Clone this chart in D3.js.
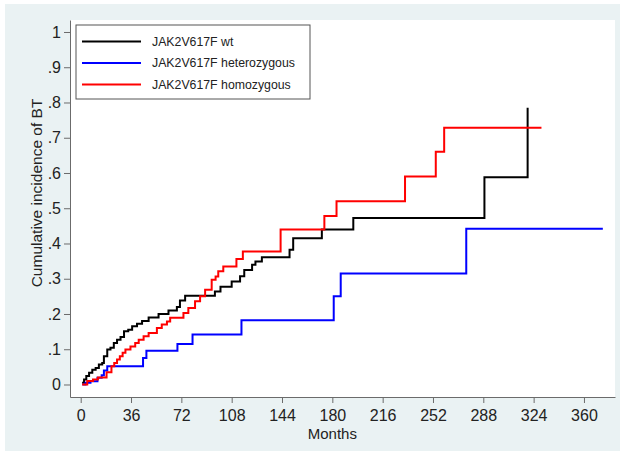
<!DOCTYPE html>
<html>
<head>
<meta charset="utf-8">
<script src="https://cdn.jsdelivr.net/npm/d3@7"></script>
<style>
  body { margin: 0; background: #fff; }
  text { font-family: "Liberation Sans", Arial, sans-serif; }
</style>
</head>
<body>
<div id="chart"></div>
<script>
// ---- data (months, cumulative incidence) ----
const wtMonths  = [1, 2.4, 4, 6, 8.3, 10.7, 13, 15.4, 16.6, 19, 21.3, 23.7, 26, 28.5, 31, 34, 36.8, 40.3, 43.9, 48.6, 55.7, 62.8, 68.8, 71, 74.7, 96, 100, 108, 114, 117, 122.6, 125, 129.6, 149.4, 152, 172.5, 195, 288.8, 319.7];
const wtValues  = [0.005, 0.014, 0.024, 0.033, 0.042, 0.047, 0.057, 0.061, 0.08, 0.099, 0.104, 0.118, 0.127, 0.135, 0.151, 0.155, 0.165, 0.172, 0.18, 0.19, 0.2, 0.21, 0.22, 0.238, 0.252, 0.264, 0.277, 0.292, 0.307, 0.325, 0.34, 0.349, 0.361, 0.382, 0.415, 0.44, 0.472, 0.588, 0.785];

const hetMonths = [1.2, 3.5, 7, 12, 15, 16.6, 19, 44.6, 47, 69.2, 80, 115, 181, 186, 275.8, 373.5];
const hetValues = [0, 0.005, 0.009, 0.019, 0.026, 0.04, 0.052, 0.075, 0.096, 0.115, 0.1415, 0.182, 0.25, 0.315, 0.4415, 0.4415];

const homMonths = [1, 4.7, 8.8, 12.3, 18.5, 22, 24, 26, 28, 30, 32, 35.6, 39, 41.5, 45, 48.6, 54.5, 58, 61.7, 64, 73.5, 77, 81.8, 85.4, 89, 93.7, 96.5, 98.4, 102, 111.4, 116, 143, 174.3, 183, 232, 254, 260, 329.6];
const homValues = [0, 0.01, 0.014, 0.02, 0.035, 0.052, 0.061, 0.071, 0.08, 0.09, 0.099, 0.108, 0.118, 0.127, 0.137, 0.146, 0.16, 0.17, 0.179, 0.189, 0.203, 0.217, 0.236, 0.25, 0.269, 0.297, 0.306, 0.321, 0.335, 0.356, 0.377, 0.44, 0.478, 0.52, 0.59, 0.66, 0.728, 0.728];

const seriesNames  = ["JAK2V617F wt", "JAK2V617F heterozygous", "JAK2V617F homozygous"];
const seriesColors = ["#000000", "#0000ff", "#ff0000"];
const xTicks = [0, 36, 72, 108, 144, 180, 216, 252, 288, 324, 360];
const yTicks = [0, 0.1, 0.2, 0.3, 0.4, 0.5, 0.6, 0.7, 0.8, 0.9, 1];

const series = [
  {name: seriesNames[0], color: seriesColors[0], pts: wtMonths.map((m, i) => ({m: m, v: wtValues[i]}))},
  {name: seriesNames[1], color: seriesColors[1], pts: hetMonths.map((m, i) => ({m: m, v: hetValues[i]}))},
  {name: seriesNames[2], color: seriesColors[2], pts: homMonths.map((m, i) => ({m: m, v: homValues[i]}))}
];

// ---- layout ----
const W = 625, H = 457;
const margin = {top: 20, right: 10, bottom: 60, left: 70},
  width = W - margin.left - margin.right,
  height = H - margin.top - margin.bottom;

const svg0 = d3.select("#chart").append("svg")
  .attr("width", W)
  .attr("height", H);

// outer graph region
svg0.append("rect")
  .attr("x", 5).attr("y", 4)
  .attr("width", 615).attr("height", 447)
  .attr("fill", "#eaf2f3");

const svg = svg0.append("g")
  .attr("transform", `translate(${margin.left},${margin.top})`);

// plot region
svg.append("rect")
  .attr("width", width)
  .attr("height", height)
  .attr("fill", "#fff");

const x = d3.scaleLinear()
  .domain([-7.65, 382.2])
  .range([0, width]);

const y = d3.scaleLinear()
  .domain([-0.0355, 1.034])
  .range([height, 0]);

// Y axis
const yAxis = svg.append("g")
  .call(d3.axisLeft(y)
    .tickValues(yTicks)
    .tickSize(6)
    .tickSizeOuter(0)
    .tickPadding(3)
    .tickFormat(d => d === 0 ? "0" : d === 1 ? "1" : d3.format(".1f")(d).replace(/^0/, "")));
yAxis.selectAll("path, line").attr("stroke", "#6b6b6b");
yAxis.selectAll("text").attr("font-size", 16).attr("fill", "#222")
  .style("font-family", "'Liberation Sans', Arial, sans-serif");

// X axis
const xAxis = svg.append("g")
  .attr("transform", `translate(0,${height})`)
  .call(d3.axisBottom(x)
    .tickValues(xTicks)
    .tickSize(6)
    .tickSizeOuter(0)
    .tickPadding(7));
xAxis.selectAll("path, line").attr("stroke", "#6b6b6b");
xAxis.selectAll("text").attr("font-size", 16).attr("fill", "#222")
  .style("font-family", "'Liberation Sans', Arial, sans-serif");

// axis titles
svg0.append("text")
  .attr("transform", "translate(42,193) rotate(-90)")
  .attr("text-anchor", "middle")
  .attr("font-size", 15.5)
  .attr("fill", "#222")
  .text("Cumulative incidence of BT");

svg0.append("text")
  .attr("x", margin.left + x(180))
  .attr("y", 439)
  .attr("text-anchor", "middle")
  .attr("font-size", 15)
  .attr("fill", "#222")
  .text("Months");

// step curves
const line = d3.line()
  .curve(d3.curveStepAfter)
  .x(d => x(d.m))
  .y(d => y(d.v));

svg.append("g")
  .selectAll("path")
  .data(series)
  .join("path")
    .attr("fill", "none")
    .attr("stroke", d => d.color)
    .attr("stroke-width", 2)
    .attr("d", d => line(d.pts));

// legend
const legend = svg0.append("g").attr("transform", "translate(76,25)");
legend.append("rect")
  .attr("width", 234)
  .attr("height", 74)
  .attr("fill", "#fff")
  .attr("stroke", "#555")
  .attr("stroke-width", 1);

const item = legend.selectAll("g.item")
  .data(series)
  .join("g")
    .attr("class", "item")
    .attr("transform", (d, i) => `translate(0,${16.5 + i * 21.5})`);
item.append("line")
  .attr("x1", 6).attr("x2", 65)
  .attr("stroke", d => d.color)
  .attr("stroke-width", 2);
item.append("text")
  .attr("x", 76)
  .attr("dy", "0.35em")
  .attr("font-size", 12.3)
  .attr("fill", "#222")
  .text(d => d.name);
</script>
</body>
</html>
